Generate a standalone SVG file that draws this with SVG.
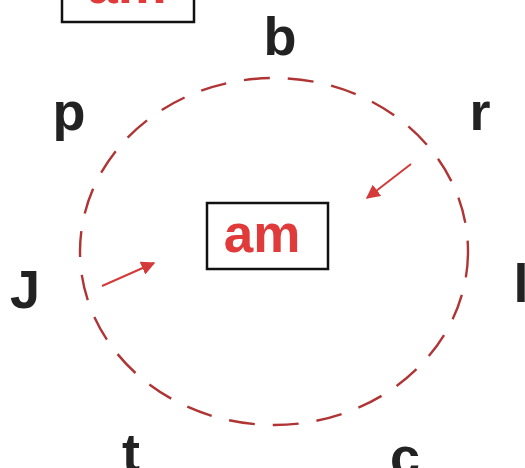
<svg xmlns="http://www.w3.org/2000/svg" width="525" height="468" viewBox="0 0 525 468">
<style>
.box{fill:#fff;stroke:#111;stroke-width:2.5}
.word{font-family:"Liberation Sans",Arial,sans-serif;font-weight:bold;fill:#e03a3a;text-anchor:middle}
.lbl{font-family:"Liberation Sans",Arial,sans-serif;font-weight:bold;font-size:54px;fill:#222;text-anchor:middle}
.ring{fill:none;stroke:#b03434;stroke-width:2.4;stroke-dasharray:26 18}
.arr{stroke:#d43a3a;stroke-width:2;fill:none}
</style>
<defs>
<marker id="ah" viewBox="0 0 10 10" refX="9" refY="5" markerWidth="7" markerHeight="7" orient="auto">
<path d="M0,0 L10,5 L0,10 z" fill="#d43a3a"/>
</marker>
</defs>
<rect width="525" height="468" fill="#fff"/>
<g id="connectors">
<ellipse class="ring" cx="274" cy="251.5" rx="194" ry="173.5"/>
<line class="arr" x1="411" y1="164" x2="367" y2="198" marker-end="url(#ah)"/>
<line class="arr" x1="102" y1="286" x2="154" y2="263" marker-end="url(#ah)"/>
</g>
<g id="top-box">
<rect class="box" x="62" y="-50" width="132" height="72"/>
<text class="word" x="127" y="3" font-size="55">am</text>
</g>
<g id="center-box">
<rect class="box" x="207" y="203" width="121" height="66"/>
<text class="word" x="262" y="252" font-size="53">am</text>
</g>
<g id="label-b"><text class="lbl" x="280" y="55">b</text></g>
<g id="label-p"><text class="lbl" x="69" y="130">p</text></g>
<g id="label-r"><text class="lbl" x="480" y="130">r</text></g>
<g id="label-J"><text class="lbl" x="25" y="308">J</text></g>
<g id="label-l"><text class="lbl" x="521" y="302" font-size="60">l</text></g>
<g id="label-t"><text class="lbl" x="131" y="471">t</text></g>
<g id="label-c"><text class="lbl" x="405" y="475">c</text></g>
</svg>
